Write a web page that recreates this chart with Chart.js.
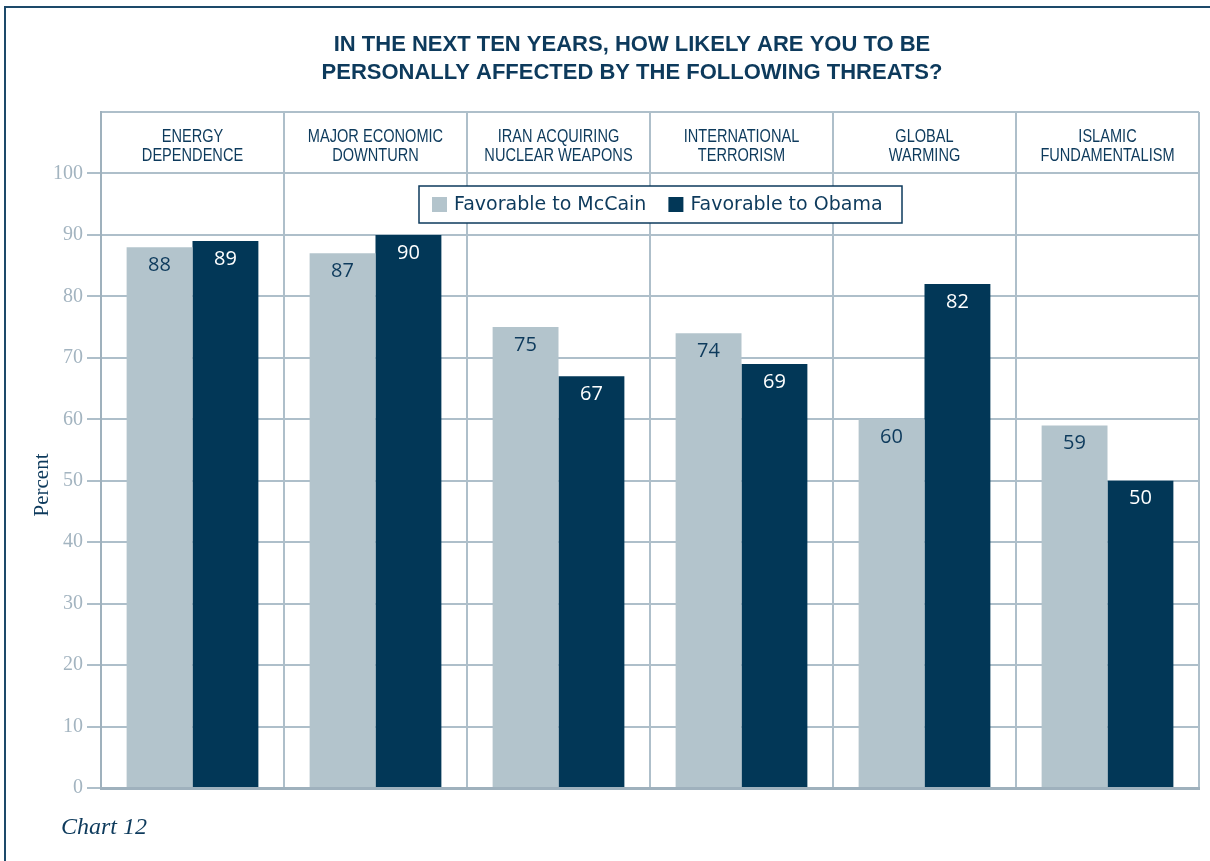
<!DOCTYPE html>
<html lang="en">
<head>
    <meta charset="UTF-8">
    <title>Chart 12</title>
    <style>
        body { margin: 0; background: #fff; }
    </style>
</head>
<body>
    <canvas id="myChart" width="1210" height="861"></canvas>

    <script src="https://cdn.jsdelivr.net/npm/chart.js"></script>

    <script>
        const titleLines = ['IN THE NEXT TEN YEARS, HOW LIKELY ARE YOU TO BE', 'PERSONALLY AFFECTED BY THE FOLLOWING THREATS?']
        const categories = [
            ['ENERGY', 'DEPENDENCE'],
            ['MAJOR ECONOMIC', 'DOWNTURN'],
            ['IRAN ACQUIRING', 'NUCLEAR WEAPONS'],
            ['INTERNATIONAL', 'TERRORISM'],
            ['GLOBAL', 'WARMING'],
            ['ISLAMIC', 'FUNDAMENTALISM']
        ]
        const mccainValues = [88, 87, 75, 74, 60, 59]   // Favorable to McCain
        const obamaValues = [89, 90, 67, 69, 82, 50]    // Favorable to Obama
        const yTickValues = [0, 10, 20, 30, 40, 50, 60, 70, 80, 90, 100]

        const navy = '#0d3a5c'
        const lightBar = '#b3c4cc'
        const darkBar = '#023757'
        const gridColor = '#aebfca'

        // extra drawing: frame, title, column headers, legend, value labels
        const decorations = {
            id: 'decorations',
            beforeDraw(chart) {
                const ctx = chart.ctx
                ctx.save()
                ctx.fillStyle = '#fff'
                ctx.fillRect(0, 0, chart.width, chart.height)
                ctx.strokeStyle = '#1d4a6a'
                ctx.lineWidth = 2
                ctx.beginPath()
                ctx.moveTo(5, chart.height)
                ctx.lineTo(5, 7)
                ctx.lineTo(chart.width, 7)
                ctx.stroke()
                ctx.restore()
            },
            afterDraw(chart) {
                const ctx = chart.ctx
                const xScale = chart.scales.x
                ctx.save()

                // title
                ctx.fillStyle = navy
                ctx.font = 'bold 22px "Liberation Sans", Arial, sans-serif'
                ctx.textAlign = 'center'
                ctx.textBaseline = 'middle'
                titleLines.forEach((line, i) => ctx.fillText(line, 632, 45 + i * 28))

                // column headers (condensed look by squeezing x)
                ctx.font = '18px "Liberation Sans", sans-serif'
                categories.forEach((lines, i) => {
                    const cx = xScale.getPixelForValue(i)
                    lines.forEach((line, j) => {
                        ctx.save()
                        ctx.translate(cx, 137 + j * 19)
                        ctx.scale(0.81, 1)
                        ctx.fillText(line, 0, 0)
                        ctx.restore()
                    })
                })

                // value labels
                ctx.font = '20px "Open Sans", sans-serif'
                chart.data.datasets.forEach((ds, di) => {
                    const meta = chart.getDatasetMeta(di)
                    meta.data.forEach((bar, i) => {
                        ctx.fillStyle = di === 0 ? navy : '#ffffff'
                        ctx.fillText(ds.data[i], bar.x, bar.y + 18)
                    })
                })

                // legend
                const lx = 419, ly = 186, lw = 483, lh = 37
                ctx.fillStyle = '#fff'
                ctx.fillRect(lx, ly, lw, lh)
                ctx.strokeStyle = navy
                ctx.lineWidth = 1.5
                ctx.strokeRect(lx, ly, lw, lh)
                ctx.font = '19px "DejaVu Sans", sans-serif'
                ctx.textAlign = 'left'
                let x = lx + 13
                chart.data.datasets.forEach(ds => {
                    ctx.fillStyle = ds.backgroundColor
                    ctx.fillRect(x, ly + 11, 15, 15)
                    ctx.fillStyle = navy
                    ctx.fillText(ds.label, x + 22, ly + lh / 2 + 1)
                    x += 22 + ctx.measureText(ds.label).width + 22
                })

                // axis title
                ctx.save()
                ctx.translate(42, 485)
                ctx.rotate(-Math.PI / 2)
                ctx.textAlign = 'center'
                ctx.font = '21px "Liberation Serif", "DejaVu Serif", serif'
                ctx.fillStyle = navy
                ctx.fillText('Percent', 0, 0)
                ctx.restore()

                // caption
                ctx.font = 'italic 24px "Liberation Serif", "DejaVu Serif", serif'
                ctx.fillStyle = navy
                ctx.textAlign = 'left'
                ctx.fillText('Chart 12', 61, 828)

                ctx.restore()
            }
        }

        function displayChart() {
            const ctx = document.getElementById('myChart')
            new Chart(ctx, {
                type: 'bar',
                data: {
                    labels: categories.map(c => c.join(' ')),
                    datasets: [{
                        label: 'Favorable to McCain',
                        data: mccainValues,
                        backgroundColor: lightBar,
                        barPercentage: 1,
                        categoryPercentage: 0.72
                    }, {
                        label: 'Favorable to Obama',
                        data: obamaValues,
                        backgroundColor: darkBar,
                        barPercentage: 1,
                        categoryPercentage: 0.72
                    }]
                },
                options: {
                    responsive: false,
                    animation: false,
                    layout: {
                        padding: { left: 0, right: 11, top: 112, bottom: 73 }
                    },
                    plugins: {
                        legend: { display: false },
                        tooltip: { enabled: false }
                    },
                    scales: {
                        x: {
                            grid: {
                                offset: true,
                                color: gridColor,
                                lineWidth: 2,
                                drawTicks: false
                            },
                            border: { color: '#9fb1bd', width: 3 },
                            ticks: { display: false },
                            afterFit(scale) { scale.height = 0 }
                        },
                        y: {
                            min: 0,
                            max: 110,
                            afterBuildTicks(scale) {
                                scale.ticks = yTickValues.concat([110]).map(v => ({ value: v }))
                            },
                            ticks: {
                                callback: v => (yTickValues.includes(v) ? v : ''),
                                color: '#a3b4c0',
                                font: { family: '"Liberation Serif", "DejaVu Serif", serif', size: 20 },
                                padding: 4
                            },
                            grid: {
                                color: gridColor,
                                lineWidth: 2,
                                tickLength: 14,
                                tickColor: c => (c.tick && c.tick.value > 100 ? 'rgba(0,0,0,0)' : gridColor)
                            },
                            border: { color: '#9fb1bd', width: 2 },
                            afterFit(scale) { scale.width = 101 }
                        }
                    }
                },
                plugins: [decorations]
            })
        }
        displayChart()
    </script>
</body>
</html>
